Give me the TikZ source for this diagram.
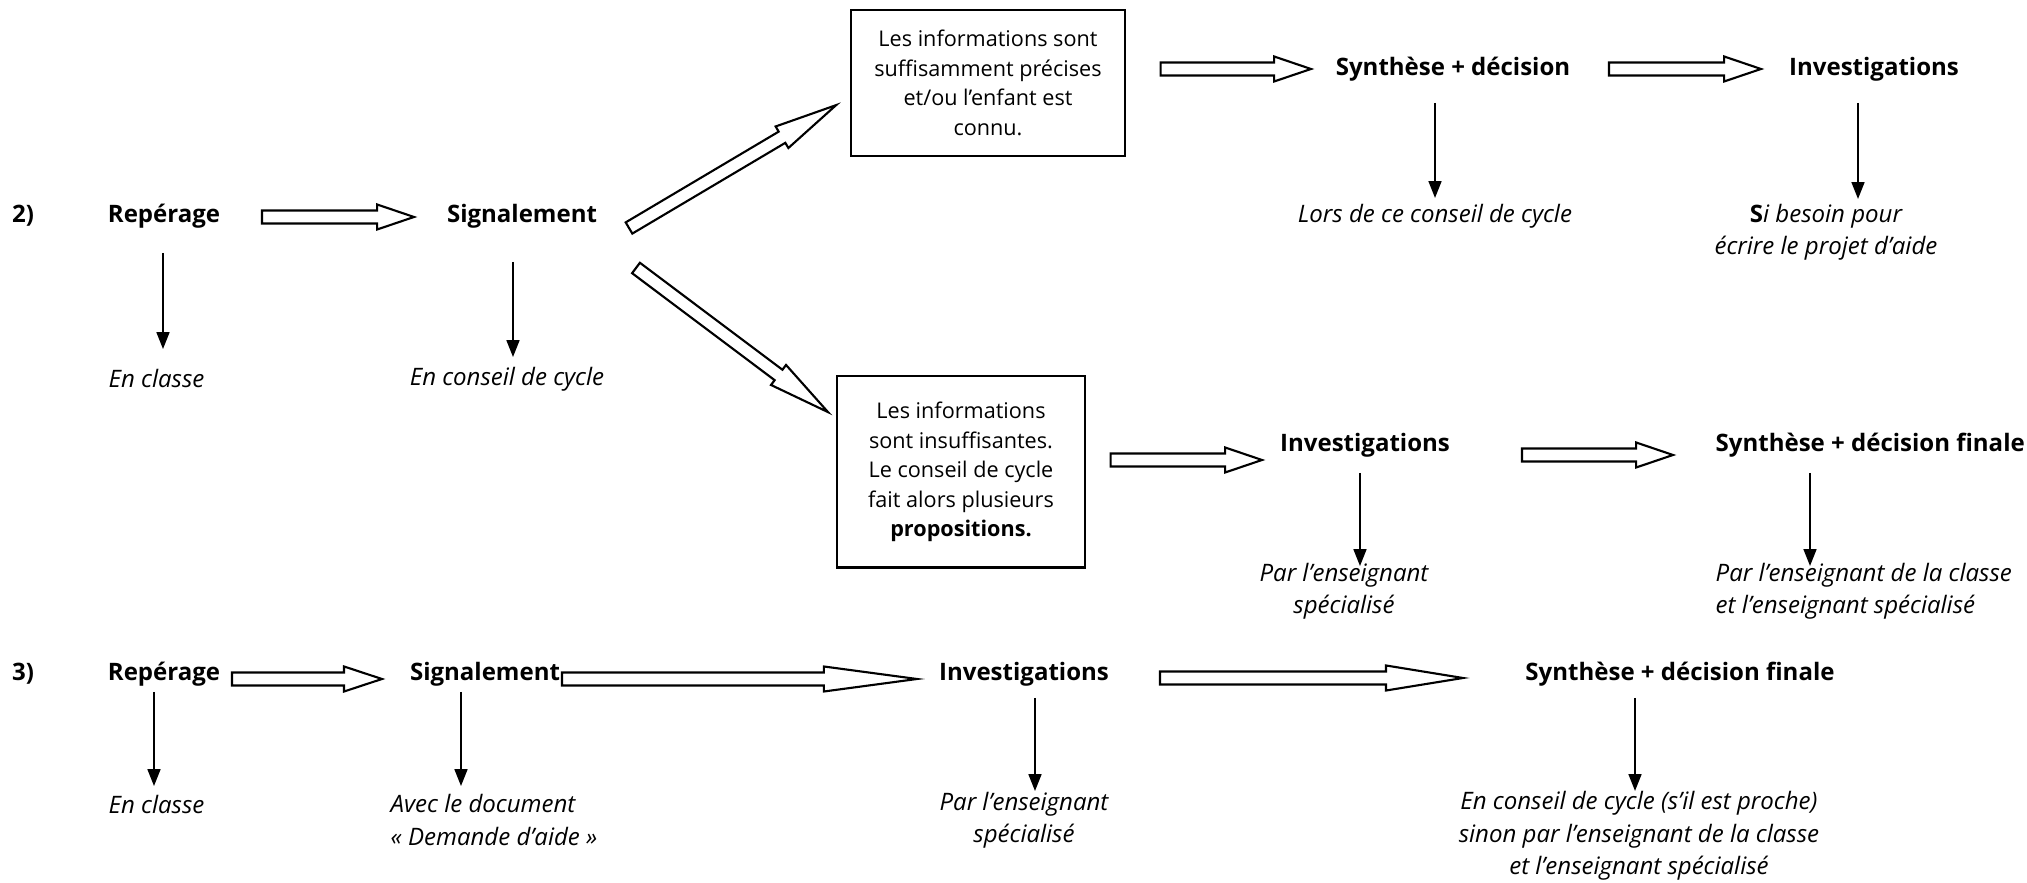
\documentclass[tikz,border=0pt]{standalone}
\usepackage{fontspec}
\setmainfont{Open Sans}
\usetikzlibrary{arrows.meta,calc}

\tikzset{
  stage/.style={font=\bfseries, inner sep=0pt},
  note/.style={font=\itshape, inner sep=0pt, align=center},
  infobox/.style={draw, line width=0.6pt, inner sep=0pt, align=center, font=\fontsize{6.15}{8.4}\selectfont},
  downarrow/.style={line width=0.45pt, -{Triangle[width=3.7pt,length=4.8pt]}},
  fatline/.style={draw, fill=white, line width=0.6pt, line join=miter}
}

% hollow block arrow from #2 to #3, head length #1
\newcommand\fatarrow[3][10.5pt]{%
  \path let \p1=(#2), \p2=(#3) in
    \pgfextra{\pgfmathsetmacro\fatang{atan2(\y2-\y1,\x2-\x1)}%
      \pgfmathsetmacro\fatlen{veclen(\x2-\x1,\y2-\y1)}%
      \xdef\fatang{\fatang}\xdef\fatlen{\fatlen}\xdef\fatx{\x1}\xdef\faty{\y1}};
  \draw[fatline, shift={(\fatx,\faty)}, rotate=\fatang]
    (0pt,-1.85pt) -- ({\fatlen pt-#1},-1.85pt) -- ({\fatlen pt-#1},-3.56pt)
    -- (\fatlen pt,0pt) -- ({\fatlen pt-#1},3.56pt) -- ({\fatlen pt-#1},1.85pt)
    -- (0pt,1.85pt) -- cycle;}

\begin{document}
\begin{tikzpicture}[x=0.01cm, y=-0.01cm]
\fontsize{6.83}{9.2}\selectfont
\useasboundingbox (0,0) rectangle (2027,883);

% ---- cas 2)
\node[stage] (lab2) at (23,216) {2)};
\node[stage] (rep2) at (164,216) {Repérage};
\node[stage] (sig2) at (522,216) {Signalement};
\node[note, anchor=west] (cls2) at (108,379) {En classe};
\node[note] (ccy2) at (507,379) {En conseil de cycle};

\node[infobox, minimum width=2.73cm, minimum height=1.46cm] (box1) at (988,83)
  {Les informations sont\\suffisamment précises\\et/ou l’enfant est\\connu.};
\node[stage] (syn2) at (1453,69) {Synthèse + décision};
\node[stage] (inv2a) at (1874,69) {Investigations};
\node[note] (lors) at (1435,216) {Lors de ce conseil de cycle};
\node[note] (besoin) at (1826,232) {\textbf{\textup{S}}i besoin pour\\écrire le projet d’aide};

\node[infobox, minimum width=2.47cm, minimum height=1.91cm] (box2) at (961,472)
  {Les informations\\sont insuffisantes.\\Le conseil de cycle\\fait alors plusieurs\\\textbf{propositions.}};
\node[stage] (inv2b) at (1365,445) {Investigations};
\node[note] (par2a) at (1344,591) {Par l’enseignant\\spécialisé};
\node[stage, anchor=west] (syn2b) at (1715,445) {Synthèse + décision finale};
\node[note, align=left, anchor=west] (par2b) at (1715,591) {Par l’enseignant de la classe\\et l’enseignant spécialisé};

\fatarrow{$(rep2)+(98,1)$}{$(sig2)+(-108,1)$}
\fatarrow[17.9pt]{$(sig2)+(107,12)$}{$(box1.west)+(-14,22)$}
\fatarrow[17.6pt]{$(sig2)+(114,52)$}{$(box2.north west)+(-8,37)$}
\fatarrow{$(box1.east)+(35,-14)$}{$(syn2)+(-142,0)$}
\fatarrow{$(syn2)+(156,0)$}{$(inv2a)+(-113,0)$}
\fatarrow{$(box2.east)+(25,-12)$}{$(inv2b)+(-103,15)$}
\fatarrow{$(inv2b)+(157,10)$}{$(syn2b.west)+(-42,10)$}

\draw[downarrow] ($(rep2)+(-1,37)$) -- ($(cls2.west)+(55,-30)$);
\draw[downarrow] ($(sig2)+(-9,46)$) -- ($(ccy2)+(6,-22)$);
\draw[downarrow] ($(syn2)+(-18,34)$) -- ($(lors)+(0,-18)$);
\draw[downarrow] ($(inv2a)+(-16,34)$) -- ($(besoin)+(32,-33)$);
\draw[downarrow] ($(inv2b)+(-5,28)$) -- ($(par2a)+(16,-25)$);
\draw[downarrow] ($(syn2b.west)+(95,28)$) -- ($(par2b.west)+(95,-25)$);

% ---- cas 3)
\node[stage] (lab3) at (23,674) {3)};
\node[stage] (rep3) at (164,674) {Repérage};
\node[stage] (sig3) at (485,674) {Signalement};
\node[stage] (inv3) at (1024,674) {Investigations};
\node[stage] (syn3) at (1680,674) {Synthèse + décision finale};
\node[note, anchor=west] (cls3) at (108,804) {En classe};
\node[note, align=left, anchor=west] (doc3) at (390,820) {Avec le document\\«~Demande d’aide~»};
\node[note] (par3) at (1024,820) {Par l’enseignant\\spécialisé};
\node[note] (cons3) at (1639,836) {En conseil de cycle (s’il est proche)\\sinon par l’enseignant de la classe\\et l’enseignant spécialisé};

\fatarrow[10.8pt]{$(rep3)+(68,5)$}{$(sig3)+(-103,5)$}
\fatarrow[26.5pt]{$(sig3)+(77,5)$}{$(inv3)+(-107,5)$}
\fatarrow[21.9pt]{$(inv3)+(136,4)$}{$(syn3)+(-217,4)$}

\draw[downarrow] ($(rep3)+(-10,18)$) -- ($(cls3.west)+(46,-18)$);
\draw[downarrow] ($(sig3)+(-24,18)$) -- ($(doc3.west)+(71,-34)$);
\draw[downarrow] ($(inv3)+(11,24)$) -- ($(par3)+(11,-29)$);
\draw[downarrow] ($(syn3)+(-45,24)$) -- ($(cons3)+(-4,-45)$);
\end{tikzpicture}
\end{document}
